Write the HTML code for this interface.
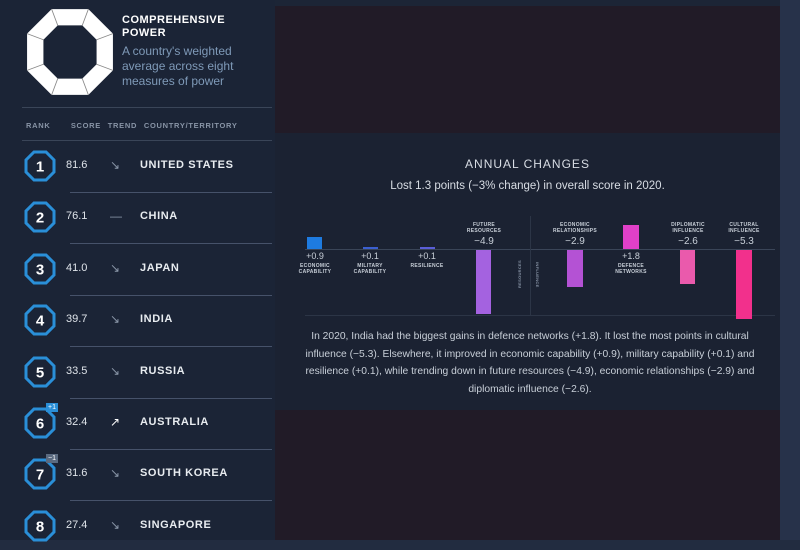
<!DOCTYPE html>
<html><head><meta charset="utf-8"><style>
*{margin:0;padding:0;box-sizing:border-box}
body{width:800px;height:550px;background:#1c2536;font-family:"Liberation Sans",sans-serif;position:relative;overflow:hidden;color:#fff}
.abs{position:absolute}
.sep{position:absolute;left:70px;width:202px;height:1px;background:#46526a}
.sc{position:absolute;left:66px;font-size:11px;color:#dfe4ea}
.tr{position:absolute;left:110px;font-size:12px;color:#8a96a8}
.ct{position:absolute;left:140px;font-size:11px;font-weight:bold;color:#e8ecf0;letter-spacing:.6px}
.lbl{position:absolute;font-size:5px;font-weight:bold;color:#c8cfd8;text-align:center;letter-spacing:.3px;line-height:6px}
.val{position:absolute;font-size:9px;color:#c8cfd8;text-align:center}
</style></head><body>
<div class="abs" style="left:0;top:0;width:275px;height:550px;background:#1b2436"></div>
<div class="abs" style="left:275px;top:6px;width:505px;height:127px;background:#211b27"></div>
<div class="abs" style="left:275px;top:133px;width:505px;height:277px;background:#1b2232"></div>
<div class="abs" style="left:275px;top:410px;width:505px;height:130px;background:#211b27"></div>
<div class="abs" style="left:780px;top:0;width:20px;height:550px;background:#27324a"></div>
<div class="abs" style="left:0;top:540px;width:800px;height:10px;background:#222c40"></div>

<svg class="abs" style="left:24px;top:6px" width="92" height="92" viewBox="0 0 90 90">
<polygon points="27,3 63,3 87,27 87,63 63,87 27,87 3,63 3,27" fill="#fff"/>
<polygon points="33,19 57,19 71,33 71,57 57,71 33,71 19,57 19,33" fill="#1b2436"/>
<g stroke="#888" stroke-width="0.8"><line x1="27" y1="3" x2="33" y2="19"/><line x1="63" y1="3" x2="57" y2="19"/><line x1="87" y1="27" x2="71" y2="33"/><line x1="87" y1="63" x2="71" y2="57"/><line x1="63" y1="87" x2="57" y2="71"/><line x1="27" y1="87" x2="33" y2="71"/><line x1="3" y1="63" x2="19" y2="57"/><line x1="3" y1="27" x2="19" y2="33"/></g>
</svg>
<div class="abs" style="left:122px;top:14px;font-size:11px;font-weight:bold;line-height:13px;letter-spacing:.5px">COMPREHENSIVE<br>POWER</div>
<div class="abs" style="left:122px;top:44px;font-size:12px;line-height:15px;color:#7f9ab8">A country's weighted<br>average across eight<br>measures of power</div>
<div class="abs" style="left:22px;top:107px;width:250px;height:1px;background:#3a4558"></div>
<div class="abs" style="left:26px;top:121px;font-size:7.5px;font-weight:bold;color:#8894a6;letter-spacing:.7px;word-spacing:4px">RANK &nbsp;&nbsp;SCORE TREND COUNTRY/TERRITORY</div>
<div class="abs" style="left:22px;top:140px;width:250px;height:1px;background:#3a4558"></div>

<div id="rows"></div>
<script>
var d=[["1","81.6","↘","UNITED STATES"],["2","76.1","—","CHINA"],["3","41.0","↘","JAPAN"],["4","39.7","↘","INDIA"],["5","33.5","↘","RUSSIA"],["6","32.4","↗","AUSTRALIA","+1"],["7","31.6","↘","SOUTH KOREA","−1"],["8","27.4","↘","SINGAPORE"]];
var h="";
d.forEach(function(r,i){var c=166+i*51.4;
h+='<svg class="abs" style="left:24px;top:'+(c-16)+'px" width="32" height="32" viewBox="0 0 32 32"><polygon points="10,2 22,2 30,10 30,22 22,30 10,30 2,22 2,10" fill="#1b2436" stroke="#2a8fd8" stroke-width="3"/><text x="16" y="21.5" text-anchor="middle" font-family="Liberation Sans" font-weight="bold" font-size="15" fill="#fff">'+r[0]+'</text></svg>';
if(r[4])h+='<div class="abs" style="left:46px;top:'+(c-20)+'px;width:12px;height:9px;background:'+(r[4]=="+1"?"#2a8fd8":"#5a6a80")+';font-size:7px;text-align:center;line-height:9px;color:#fff">'+r[4]+'</div>';
h+='<div class="sc" style="top:'+(c-7)+'px">'+r[1]+'</div><div class="tr" style="top:'+(c-8)+'px;'+(r[2]=="↗"?"color:#fff":"")+'">'+r[2]+'</div><div class="ct" style="top:'+(c-7)+'px">'+r[3]+'</div>';
if(i<7)h+='<div class="sep" style="top:'+(c+26)+'px"></div>';});
document.getElementById("rows").innerHTML=h;
</script>

<div class="abs" style="left:275px;top:157px;width:505px;text-align:center;font-size:12px;letter-spacing:1px;color:#d8dde4">ANNUAL CHANGES</div>
<div class="abs" style="left:275px;top:180px;width:505px;text-align:center;font-size:11.5px;color:#d8dde4">Lost 1.3 points (−3% change) in overall score in 2020.</div>
<div class="abs" style="left:305px;top:249px;width:470px;height:1px;background:#3a4558"></div>
<div class="abs" style="left:305px;top:315px;width:470px;height:1px;background:#2c3546"></div>
<div class="abs" style="left:530px;top:216px;width:1px;height:100px;background:#2c3546"></div>
<div class="lbl" style="left:517px;top:260px;font-size:4px;writing-mode:vertical-rl;transform:rotate(180deg);color:#8894a6">RESOURCES</div>
<div class="lbl" style="left:534px;top:262px;font-size:4px;writing-mode:vertical-rl;color:#8894a6">INFLUENCE</div>

<div class="abs" style="left:307px;top:237px;width:15px;height:12px;background:#1e7be0"></div>
<div class="abs" style="left:363px;top:247px;width:15px;height:2px;background:#3b5fd0"></div>
<div class="abs" style="left:420px;top:247px;width:15px;height:2px;background:#5a5ed8"></div>
<div class="abs" style="left:476px;top:250px;width:15px;height:64px;background:#a462e0"></div>
<div class="abs" style="left:567px;top:250px;width:16px;height:37px;background:#b452d4"></div>
<div class="abs" style="left:623px;top:225px;width:16px;height:24px;background:#e040c8"></div>
<div class="abs" style="left:680px;top:250px;width:15px;height:34px;background:#ea5aac"></div>
<div class="abs" style="left:736px;top:250px;width:16px;height:69px;background:#f2308c"></div>

<div class="val" style="left:295px;top:251px;width:40px">+0.9</div>
<div class="lbl" style="left:290px;top:263px;width:50px">ECONOMIC<br>CAPABILITY</div>
<div class="val" style="left:350px;top:251px;width:40px">+0.1</div>
<div class="lbl" style="left:345px;top:263px;width:50px">MILITARY<br>CAPABILITY</div>
<div class="val" style="left:407px;top:251px;width:40px">+0.1</div>
<div class="lbl" style="left:402px;top:263px;width:50px">RESILIENCE</div>
<div class="lbl" style="left:459px;top:222px;width:50px">FUTURE<br>RESOURCES</div>
<div class="val" style="left:464px;top:236px;width:40px;font-size:10px">−4.9</div>
<div class="lbl" style="left:545px;top:222px;width:60px">ECONOMIC<br>RELATIONSHIPS</div>
<div class="val" style="left:555px;top:236px;width:40px;font-size:10px">−2.9</div>
<div class="val" style="left:611px;top:251px;width:40px">+1.8</div>
<div class="lbl" style="left:606px;top:263px;width:50px">DEFENCE<br>NETWORKS</div>
<div class="lbl" style="left:663px;top:222px;width:50px">DIPLOMATIC<br>INFLUENCE</div>
<div class="val" style="left:668px;top:236px;width:40px;font-size:10px">−2.6</div>
<div class="lbl" style="left:719px;top:222px;width:50px">CULTURAL<br>INFLUENCE</div>
<div class="val" style="left:724px;top:236px;width:40px;font-size:10px">−5.3</div>

<div class="abs" style="left:290px;top:328px;width:480px;text-align:center;font-size:10.3px;line-height:17.6px;color:#c8cfd8;white-space:nowrap">In 2020, India had the biggest gains in defence networks (+1.8). It lost the most points in cultural<br>influence (−5.3). Elsewhere, it improved in economic capability (+0.9), military capability (+0.1) and<br>resilience (+0.1), while trending down in future resources (−4.9), economic relationships (−2.9) and<br>diplomatic influence (−2.6).</div>
</body></html>
